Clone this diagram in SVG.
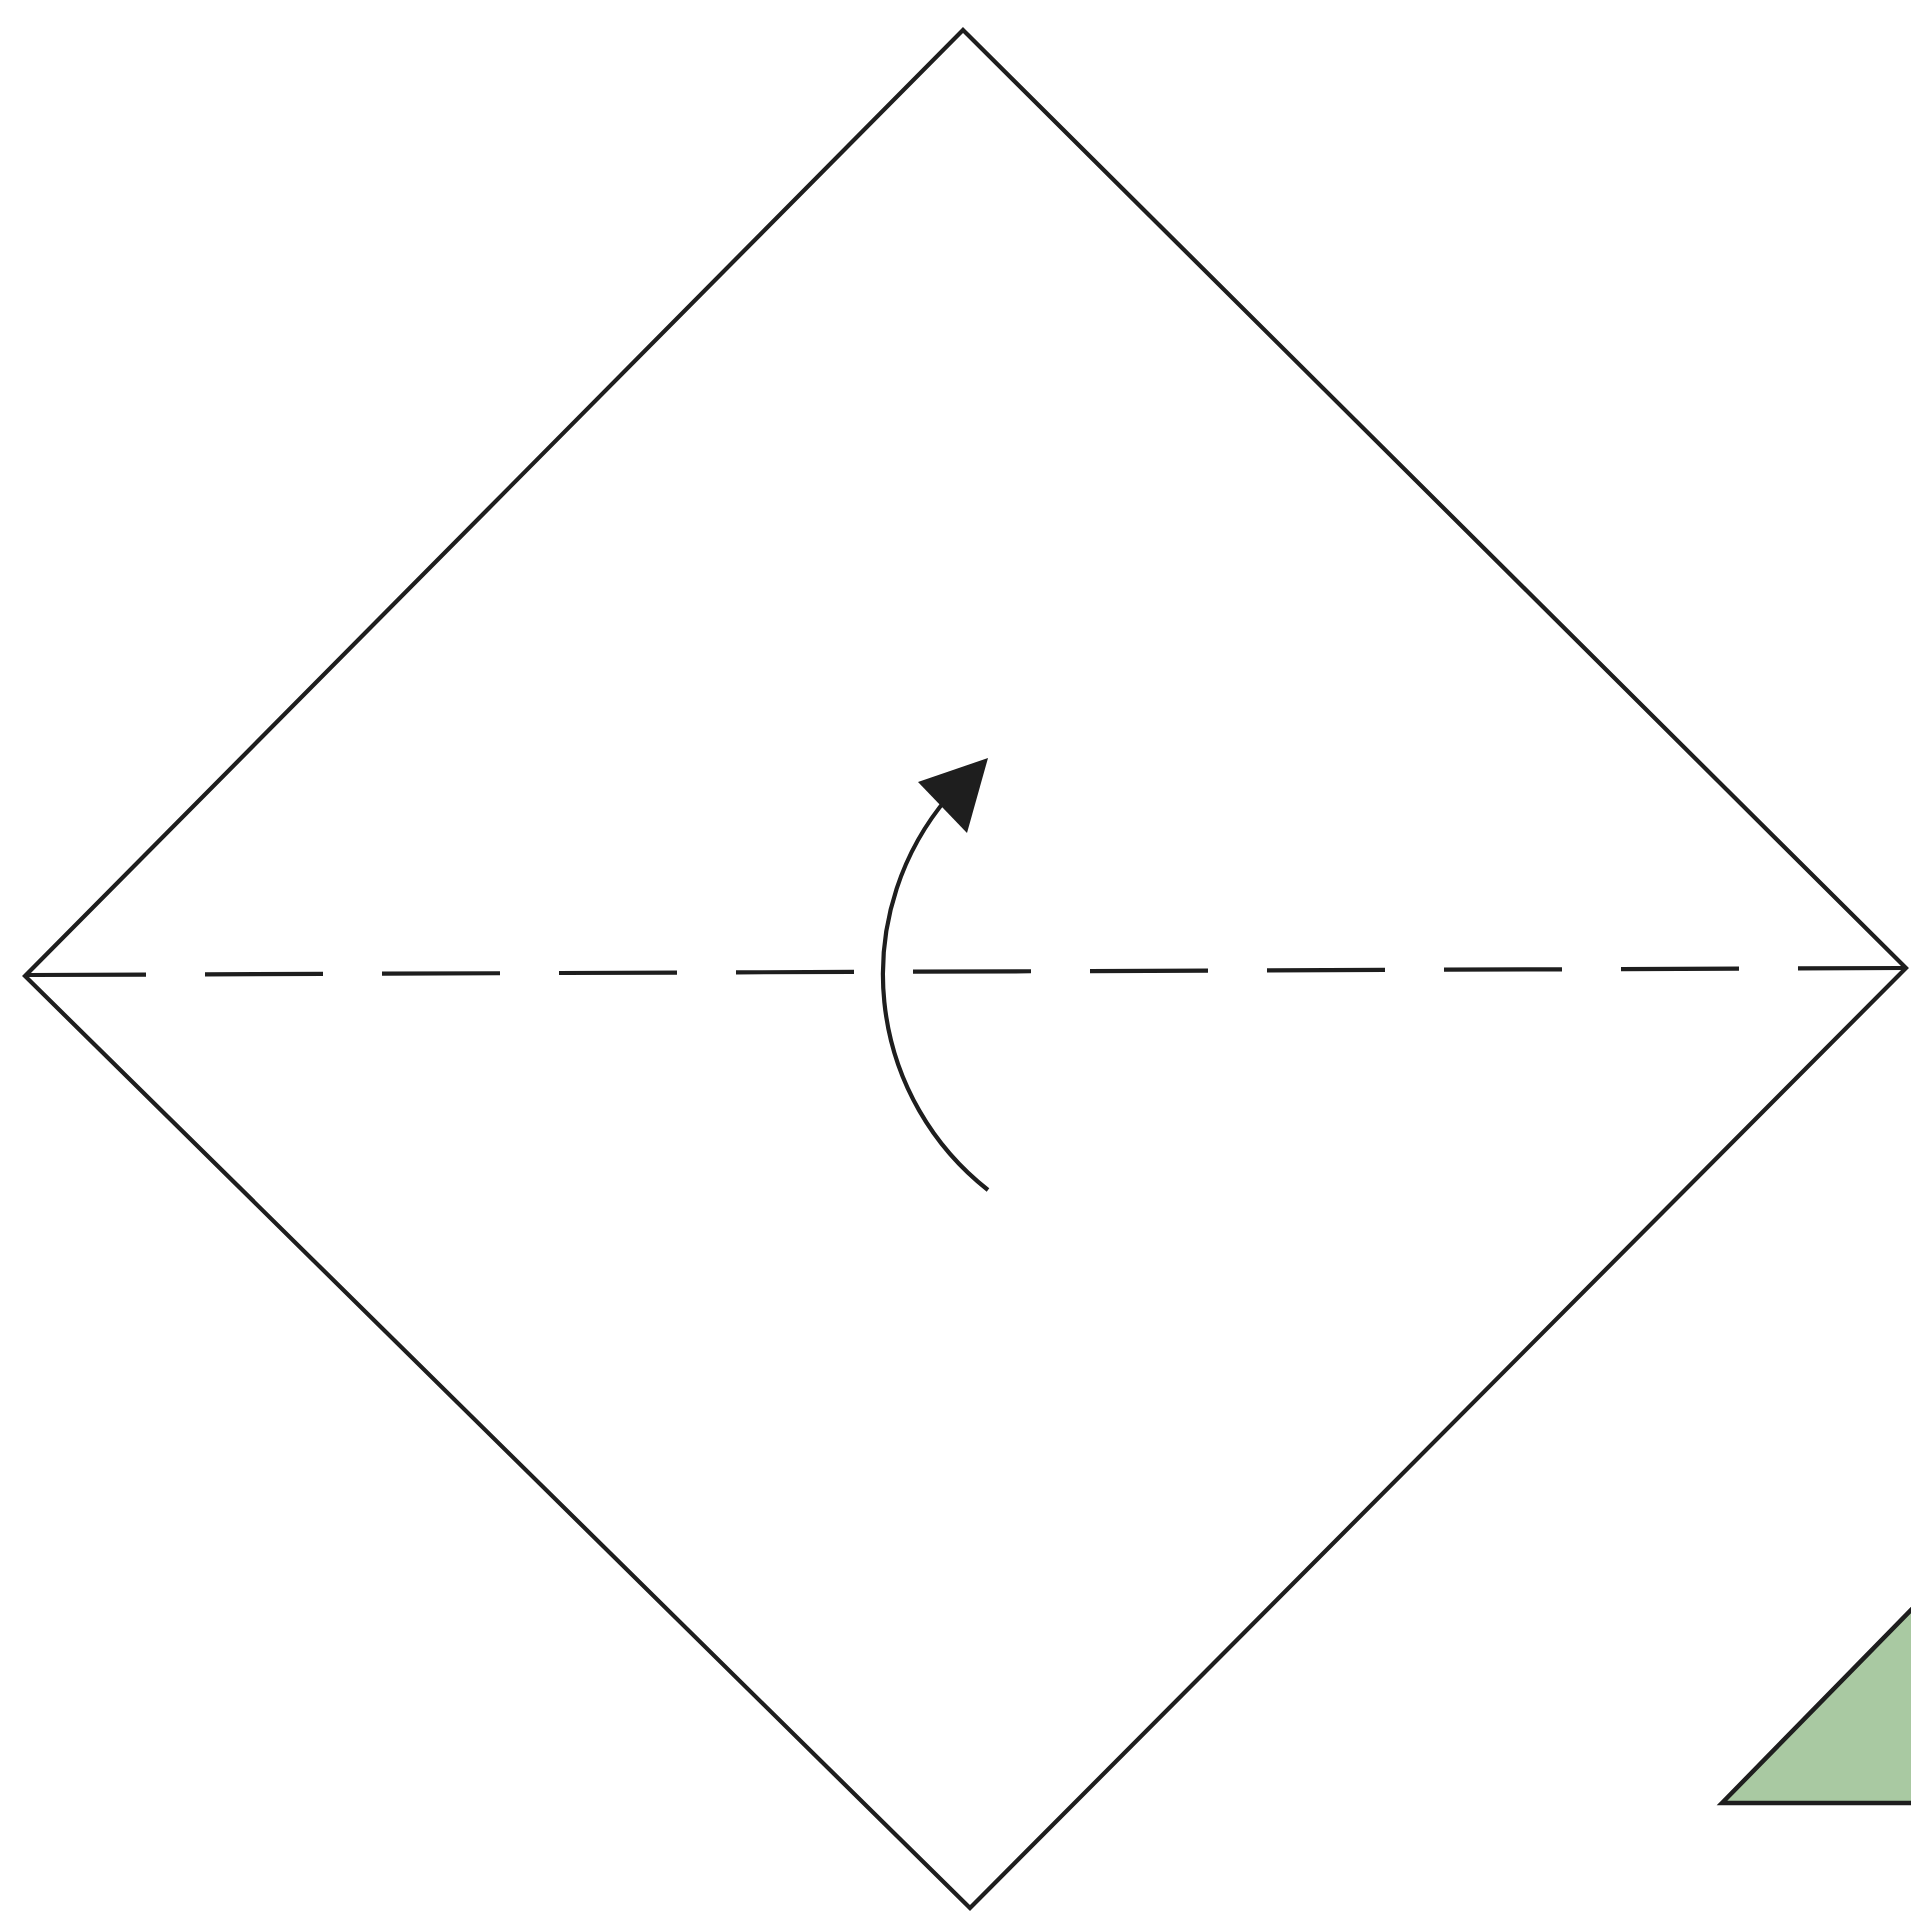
<svg xmlns="http://www.w3.org/2000/svg" width="1911" height="1915" viewBox="0 0 1911 1915">
<style>
.edge{fill:none;stroke:#1e1e1e;stroke-width:4.2;stroke-linejoin:miter}
.fold{fill:none;stroke:#1e1e1e;stroke-width:4.2;stroke-dasharray:118 59}
</style>
<rect width="1911" height="1915" fill="#fff"/>
<g id="green-flap">
<polygon points="1722,1803 1915,1606 1915,1803" fill="#a9c9a2" stroke="#1e1e1e" stroke-width="4.5"/>
</g>
<g id="square">
<polygon class="edge" points="963,30 1906,968 970,1908 25,976"/>
</g>
<g id="connectors">
<line class="fold" x1="28" y1="975" x2="1906" y2="968"/>
<path class="edge" d="M988,1190 A274,274 0 0 1 948,797"/>
<polygon points="988,758 918,782 967,833" fill="#1e1e1e"/>
</g>
</svg>
